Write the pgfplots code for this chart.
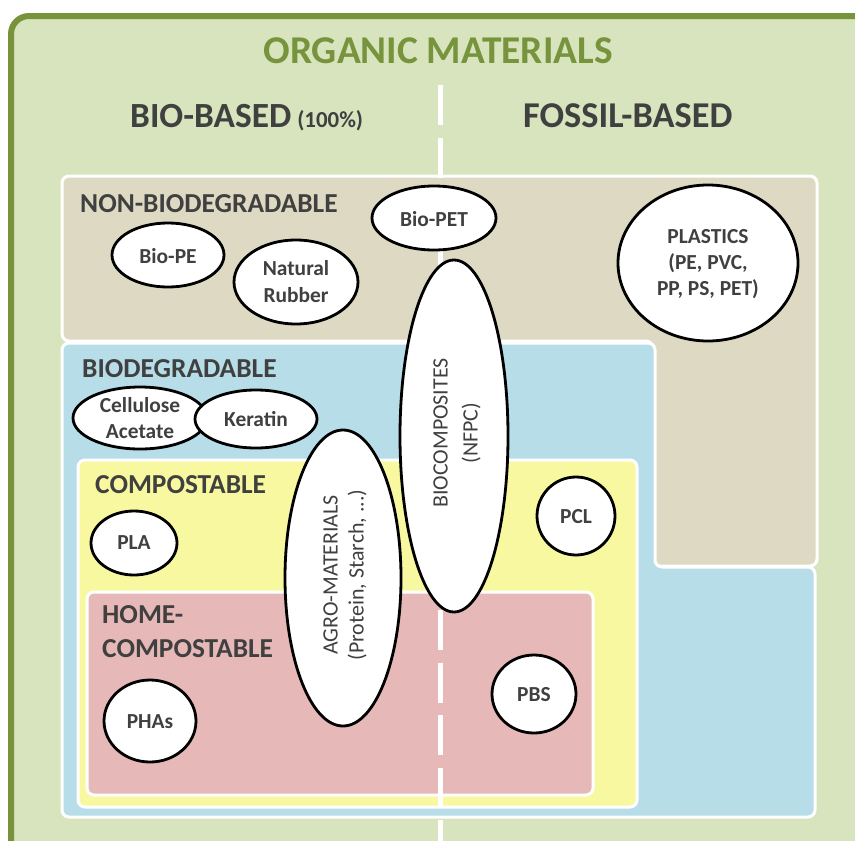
\documentclass[border=0pt]{standalone}
\usepackage{pgfplots}
\pgfplotsset{compat=1.18}
\usepackage{fontspec}
\setmainfont{Carlito}
\definecolor{bgG}{HTML}{D7E4BD}
\definecolor{bdG}{HTML}{77933C}
\definecolor{beige}{HTML}{DDD9C3}
\definecolor{blueB}{HTML}{B7DDE8}
\definecolor{yel}{HTML}{F8F8A0}
\definecolor{pink}{HTML}{E6B9B8}
\definecolor{txt}{HTML}{404040}
\newcommand{\fs}[2]{\fontsize{#1}{#2}\selectfont}
\begin{document}
\begin{tikzpicture}
\begin{axis}[x=1bp,y=1bp,xmin=0,xmax=855,ymin=0,ymax=841,y dir=reverse,
  hide axis, scale only axis, clip=true]
% background
\addplot[fill=white, draw=none] coordinates {(0,0)(855,0)(855,841)(0,841)} -- cycle;
% outer frame
\addplot[fill=bgG, draw=bdG, line width=6bp, rounded corners=18bp] coordinates {(11,16)(890,16)(890,870)(11,870)} -- cycle;
% non-biodegradable (L shape)
\addplot[fill=beige, draw=white, line width=3bp, rounded corners=7bp] coordinates {(62,176)(817,176)(817,566)(653,566)(653,341)(62,341)} -- cycle;
% biodegradable (L shape)
\addplot[fill=blueB, draw=white, line width=3bp, rounded corners=7bp] coordinates {(62,343)(655,343)(655,567)(815,567)(815,817)(62,817)} -- cycle;
% compostable
\addplot[fill=yel, draw=white, line width=3bp, rounded corners=7bp] coordinates {(78,460)(637,460)(637,807)(78,807)} -- cycle;
% home-compostable
\addplot[fill=pink, draw=white, line width=3bp, rounded corners=7bp] coordinates {(87,592)(593,592)(593,795)(87,795)} -- cycle;
% divider
\addplot[white, line width=5bp, dash pattern=on 40bp off 12.5bp] coordinates {(440,85)(440,845)};
% ellipses
\draw[fill=white, line width=2.8bp] (axis cs:168,255) ellipse [x radius=56, y radius=32];
\draw[fill=white, line width=2.8bp] (axis cs:296,282) ellipse [x radius=62, y radius=42];
\draw[fill=white, line width=2.8bp] (axis cs:434,218) ellipse [x radius=62, y radius=32];
\draw[fill=white, line width=2.8bp] (axis cs:708,263) ellipse [x radius=90, y radius=78];
\draw[fill=white, line width=2.8bp] (axis cs:140,418) ellipse [x radius=67, y radius=31];
\draw[fill=white, line width=2.8bp] (axis cs:256,419) ellipse [x radius=61, y radius=29];
\draw[fill=white, line width=2.8bp] (axis cs:134,543) ellipse [x radius=43, y radius=32];
\draw[fill=white, line width=2.8bp] (axis cs:576,516) ellipse [x radius=39, y radius=39];
\draw[fill=white, line width=2.8bp] (axis cs:534,694) ellipse [x radius=42, y radius=39];
\draw[fill=white, line width=2.8bp] (axis cs:150,721) ellipse [x radius=46, y radius=41];
\draw[fill=white, line width=2.8bp] (axis cs:343,578) ellipse [x radius=58, y radius=148];
\draw[fill=white, line width=2.8bp] (axis cs:454,436) ellipse [x radius=54, y radius=176];
% headings
\node[anchor=base, text=bdG, font=\bfseries\fs{39.5}{44}] at (axis cs:438,63) {ORGANIC MATERIALS};
\node[anchor=base west, text=txt, font=\bfseries\fs{35.5}{40}, inner sep=0pt] at (axis cs:130,127) {BIO-BASED\,{\fs{23}{26}(100\%)}};
\node[anchor=base west, text=txt, font=\bfseries\fs{36.5}{40}, inner sep=0pt] at (axis cs:523,127) {FOSSIL-BASED};
\node[anchor=base west, text=txt, font=\bfseries\fs{27.5}{30}, inner sep=0pt] at (axis cs:80,212) {NON-BIODEGRADABLE};
\node[anchor=base west, text=txt, font=\bfseries\fs{27.5}{30}, inner sep=0pt] at (axis cs:82,377) {BIODEGRADABLE};
\node[anchor=base west, text=txt, font=\bfseries\fs{27.5}{30}, inner sep=0pt] at (axis cs:95,493) {COMPOSTABLE};
\node[anchor=base west, text=txt, font=\bfseries\fs{27.5}{30}, inner sep=0pt] at (axis cs:102,623) {HOME-};
\node[anchor=base west, text=txt, font=\bfseries\fs{27.5}{30}, inner sep=0pt] at (axis cs:102,657) {COMPOSTABLE};
% ellipse labels
\begin{scope}[every node/.style={text=txt, font=\bfseries\fs{21.5}{27}, align=center, inner sep=0pt}]
\node at (axis cs:168,256) {Bio-PE};
\node at (axis cs:296,282) {Natural\\Rubber};
\node at (axis cs:434,219) {Bio-PET};
\node[font=\bfseries\fs{21.5}{26.5}] at (axis cs:708,264) {PLASTICS\\(PE, PVC,\\PP, PS, PET)};
\node[font=\bfseries\fs{21.5}{26}] at (axis cs:140,418) {Cellulose\\Acetate};
\node at (axis cs:256,419) {Keratin};
\node at (axis cs:134,543) {PLA};
\node at (axis cs:576,517) {PCL};
\node at (axis cs:534,695) {PBS};
\node at (axis cs:150,722) {PHAs};
\node[rotate=90, font=\fs{22}{30}] at (axis cs:457,433) {BIOCOMPOSITES\\(NFPC)};
\node[rotate=90, font=\fs{22}{26}] at (axis cs:345,575) {AGRO-MATERIALS\\(Protein, Starch, ...)};
\end{scope}
\end{axis}
\end{tikzpicture}
\end{document}
